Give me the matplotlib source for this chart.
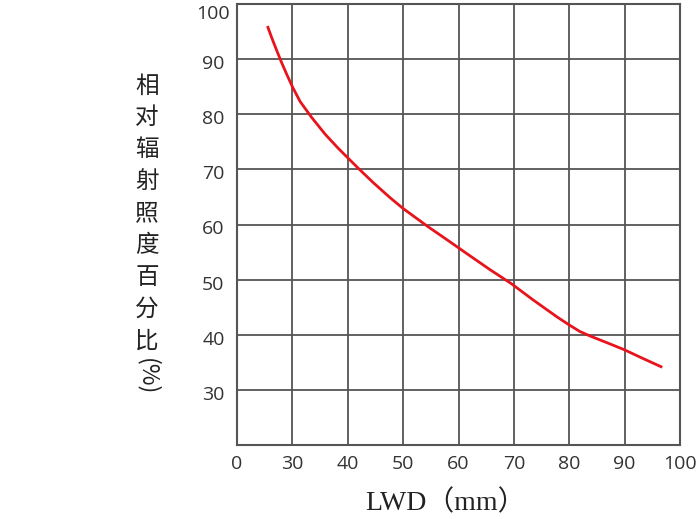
import matplotlib
matplotlib.use("Agg")
import matplotlib.pyplot as plt
from matplotlib.transforms import ScaledTranslation

# LWD (mm) vs relative irradiance (%); first x tick is labelled 0 but sits where 20 would be
lwd = [25.5, 26.3, 27.2, 28.0, 29.0, 30.0, 31.4, 33.5, 35.9, 38.3, 40.0, 42.0, 44.6, 47.6, 50.0,
       54.5, 58.4, 62.1, 65.7, 69.5, 73.5, 77.7, 79.8, 81.9, 83.7, 86.7, 89.9, 93.3, 96.8]
irradiance = [96.0, 93.8, 91.5, 89.5, 87.2, 85.0, 82.3, 79.4, 76.4, 73.8, 72.1, 70.1, 67.6, 64.9, 62.9,
              59.6, 56.9, 54.3, 51.8, 49.3, 46.3, 43.3, 41.9, 40.6, 39.8, 38.6, 37.3, 35.7, 34.1]

x_ticks = [20, 30, 40, 50, 60, 70, 80, 90, 100]
x_tick_labels = ["0", "30", "40", "50", "60", "70", "80", "90", "100"]
y_ticks = [30, 40, 50, 60, 70, 80, 90, 100]
y_label_chars = "相对辐射照度百分比"
x_label = "LWD（mm）"

W, H = 699, 519
fig = plt.figure(figsize=(W / 100, H / 100), dpi=100)
ax = fig.add_axes([237 / W, 1 - 445 / H, 443 / W, 441 / H])

ax.plot(lwd, irradiance, color="#e8141c", lw=2.0, solid_joinstyle="round", solid_capstyle="butt")

ax.set_xlim(20, 100)
ax.set_ylim(20, 100)
ax.set_xticks(x_ticks)
ax.set_xticklabels(x_tick_labels)
ax.set_yticks(y_ticks)
ax.grid(True, color="#555555", lw=1.3)
ax.set_axisbelow(True)
for sp in ax.spines.values():
    sp.set_color("#555555")
    sp.set_linewidth(1.5)

ax.tick_params(length=0, labelsize=14, labelcolor="#333333")
ax.tick_params(axis="x", pad=7)
ax.tick_params(axis="y", pad=17)
for lab in ax.get_xticklabels() + ax.get_yticklabels():
    lab.set_family("Open Sans")
for val, lab in zip(y_ticks, ax.get_yticklabels()):
    lab.set_horizontalalignment("center")
    dy = 8 if val == 100 else 3
    lab.set_transform(lab.get_transform() + ScaledTranslation(0, -dy / 100, fig.dpi_scale_trans))

# vertical stacked y label
for i, ch in enumerate(y_label_chars):
    yc = 86 + i * 31.9
    fig.text(147 / W, 1 - yc / H, ch, ha="center", va="center",
             fontsize=17, family="Noto Sans CJK SC", color="#222222")
fig.text(147 / W, 1 - 377 / H, "(%)", ha="center", va="center", rotation=-90,
         fontsize=17, family=["Noto Sans CJK SC", "DejaVu Sans"], color="#222222")

fig.text(445 / W, 1 - 503 / H, x_label, ha="center", va="center",
         fontsize=20, family=["Liberation Serif", "Noto Sans CJK SC"], color="#222222")

fig.savefig("out.png", dpi=100)
